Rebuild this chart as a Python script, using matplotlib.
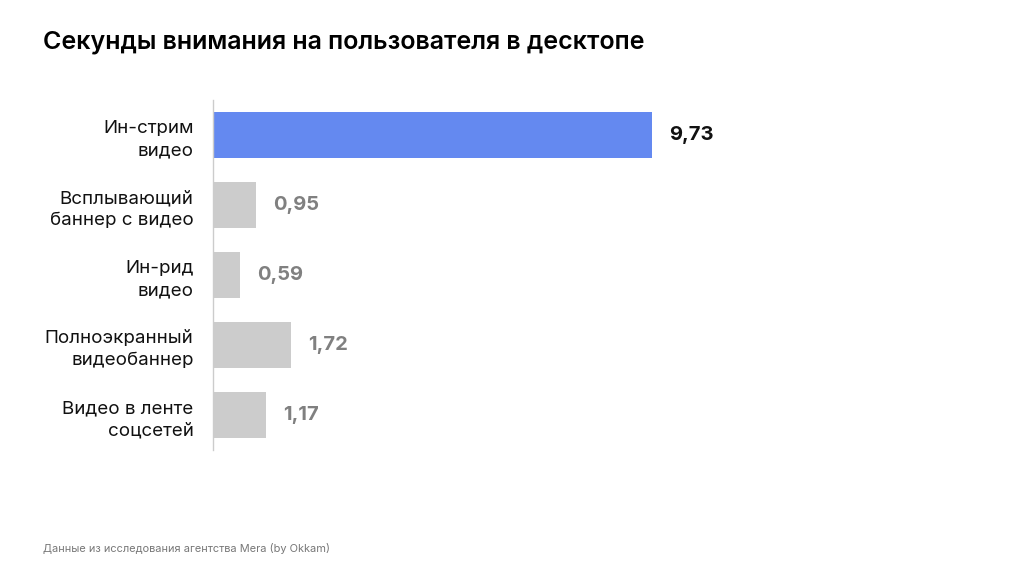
import matplotlib.pyplot as plt

plt.rcParams['font.family'] = ['Inter', 'DejaVu Sans']

# Data
categories = ['Ин-стрим\nвидео', 'Всплывающий\nбаннер с видео', 'Ин-рид\nвидео',
              'Полноэкранный\nвидеобаннер', 'Видео в ленте\nсоцсетей']
seconds = [9.73, 0.95, 0.59, 1.72, 1.17]
value_labels = ['9,73', '0,95', '0,59', '1,72', '1,17']

blue = '#6489F0'
gray = '#CCCCCC'
colors = [blue] + [gray] * (len(seconds) - 1)

fig = plt.figure(figsize=(10.24, 5.76), dpi=100)
ax = fig.add_axes([213 / 1024, 1 - 450 / 576, 541 / 1024, 350 / 576])

ypos = list(range(len(categories)))
ax.barh(ypos, seconds, height=0.67, color=colors)
ax.set_xlim(0, 12)
ax.set_ylim(4.5, -0.5)

ax.set_yticks(ypos)
ax.set_yticklabels(categories, fontsize=13.5, color='#111111', linespacing=1.4)
ax.tick_params(axis='y', length=0, pad=14)
ax.set_xticks([])

for s in ['top', 'right', 'bottom']:
    ax.spines[s].set_visible(False)
ax.spines['left'].set_color('#CCCCCC')
ax.spines['left'].set_linewidth(1)

# Value labels
for i, (v, lab) in enumerate(zip(seconds, value_labels)):
    col = '#111111' if i == 0 else '#808080'
    ax.text(v + 0.38, i, lab, va='center', ha='left', fontsize=14.5,
            fontweight='bold', color=col)

fig.text(43 / 1024, 1 - 42 / 576, 'Секунды внимания на пользователя в десктопе',
         fontsize=18, fontweight='semibold', color='#000000', va='center', ha='left')
fig.text(43 / 1024, 1 - 549 / 576, 'Данные из исследования агентства Mera (by Okkam)',
         fontsize=7.9, color='#777777', va='center', ha='left')

fig.savefig('out.png', dpi=100, facecolor='white')
